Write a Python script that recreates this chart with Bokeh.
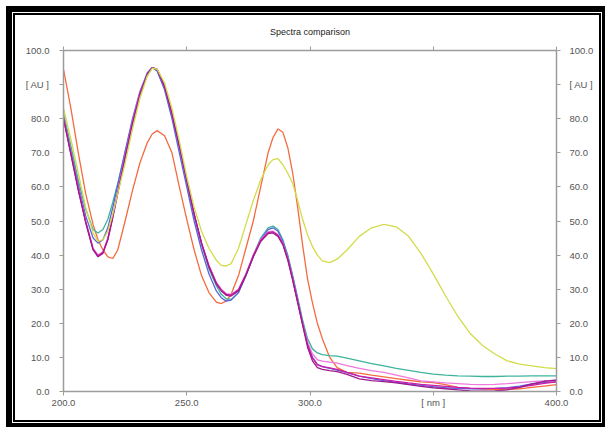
from bokeh.plotting import figure
from bokeh.models import Range1d, LinearAxis, FixedTicker, NumeralTickFormatter
from bokeh.embed import file_html
from bokeh.resources import INLINE

# ---- data ----
wavelength = [200, 203, 206, 209, 212, 214, 216, 218, 220, 222,
              225, 228, 231, 234, 236, 238, 241, 244, 247, 250,
              253, 256, 259, 262, 264, 266, 268, 271, 274, 277,
              280, 283, 285, 287, 289, 291, 293, 295, 297, 299,
              301, 303, 305, 308, 311, 315, 320, 325, 330, 335,
              340, 345, 350, 355, 360, 365, 370, 375, 380, 385,
              390, 395, 400]

orange = [94.5, 83, 70, 58, 49, 44.5, 41.5, 39.5, 39, 41.5,
          50, 59, 67, 73, 75.5, 76.5, 75, 70, 60, 50.5,
          41.5, 34, 29, 26.2, 25.8, 26.5, 28.5, 34, 42, 50,
          60, 70, 74.5, 77, 76, 71.5, 64, 54, 43, 33,
          26, 20, 15.5, 10, 7, 5.6, 5.4, 4.8, 4.3, 3.8,
          3.3, 2.8, 2.6, 2.0, 1.2, 0.9, 0.7, 0.6, 0.6, 0.8,
          1.2, 1.6, 2.0]

yellow = [83, 74, 64, 54, 46.5, 44, 44.5, 47, 52, 58,
          67, 77, 86, 92.5, 94.8, 94.5, 90.5, 83, 73.5, 63,
          54, 47, 42, 38.5, 37, 36.8, 37.5, 42, 49, 56,
          62, 66.5, 68, 68.3, 66.5, 64, 61, 56, 50.5, 46,
          42.5, 40, 38.3, 37.8, 38.8, 41.5, 45.5, 48, 49, 48.3,
          45.5, 40.5, 34.5, 28, 22, 17, 13.5, 11, 9, 8,
          7.5, 7, 6.7]

teal = [81.5, 72, 62, 53.5, 47.5, 46.5, 47.5, 50.5, 55.5, 61,
        70, 79, 87, 93, 95, 94, 89, 81, 71.5, 61.5,
        51.5, 43, 36, 31, 28.5, 27.2, 27, 29, 34, 40,
        45, 48, 48.5, 47.5, 44.5, 40, 34, 27.5, 21, 15.5,
        12.5, 11.3, 10.8, 10.5, 10.4, 9.8, 9.0, 8.2, 7.5, 6.8,
        6.2, 5.6, 5.1, 4.8, 4.6, 4.5, 4.4, 4.4, 4.5, 4.5,
        4.6, 4.6, 4.6]

blue = [80, 70.5, 60.5, 51.5, 45, 43.5, 44.5, 48, 54, 60.5,
        70.5, 80, 88, 93.5, 95, 94, 88.5, 80, 70, 60,
        50, 41.5, 34.5, 29.5, 27.5, 26.5, 26.8, 29, 34, 39.5,
        44.5, 47.5, 48, 47, 44, 39.5, 33.5, 27, 20, 14,
        10, 8, 7.3, 6.8, 6.3, 5.5, 4.5, 3.8, 3.2, 2.7,
        2.2, 1.8, 1.4, 1.1, 0.9, 0.8, 0.8, 0.9, 1.1, 1.6,
        2.2, 2.6, 2.8]

pink = [80.5, 70, 59.5, 50, 42, 40, 41, 45, 51.5, 58.5,
        69, 79, 87.5, 93, 95, 94.5, 89.5, 81.5, 72, 62,
        52, 43.5, 37, 32, 30, 28.7, 28.5, 30, 34.5, 40,
        44.5, 46.8, 47, 46, 43.5, 39, 33, 26.5, 20, 14.5,
        11, 9.3, 8.9, 8.6, 8.3, 7.6, 6.8, 6.1, 5.6, 4.8,
        4.0, 3.1, 2.8, 2.5, 2.3, 2.1, 2.0, 2.1, 2.3, 2.6,
        2.9, 3.1, 3.3]

magenta = [80.3, 69.8, 59.3, 49.8, 41.8, 39.8, 40.8, 44.8, 51.3, 58.3,
           68.8, 78.8, 87.3, 93, 95, 94.5, 89.5, 81.5, 72, 62,
           52, 43.5, 36.8, 31.8, 29.8, 28.5, 28.3, 29.8, 34.3, 39.8,
           44.3, 46.6, 46.8, 45.8, 43.3, 38.8, 32.8, 26.3, 19.8, 13.8,
           9.8, 7.8, 7.3, 6.9, 6.5, 5.6, 4.5, 4.0, 3.5, 3.0,
           2.5, 2.1, 1.8, 1.5, 1.2, 1.0, 0.9, 0.9, 1.0, 1.3,
           1.8, 2.4, 2.8]

purple = [80, 69.5, 59, 49.5, 41.5, 39.5, 40.5, 44.5, 51, 58,
          68.5, 78.5, 87, 93, 95, 94.5, 89.5, 81.5, 72, 62,
          52, 43.5, 36.5, 31.5, 29.5, 28.2, 28, 29.5, 34, 39.5,
          44, 46.3, 46.5, 45.5, 43, 38.5, 32.5, 26, 19.5, 13,
          9, 7, 6.5, 6.1, 5.8, 5.0, 3.7, 3.2, 2.9, 2.5,
          2.0, 1.5, 1.1, 0.8, 0.5, 0.2, 0.1, 0.2, 0.5, 1.2,
          2.2, 3.0, 3.3]

x_ticks = [200, 250, 300, 350, 400]
y_ticks = [0, 10, 20, 30, 40, 50, 60, 70, 80, 90, 100]
x_overrides = {350: "[ nm ]"}
y_overrides = {90: "[ AU ]"}
title_text = "Spectra comparison"

# ---- figure (placed inside a double black frame drawn with CSS) ----
p = figure(width=584, height=405, output_backend="svg", toolbar_location=None,
           x_range=Range1d(200, 400), y_range=Range1d(0, 100),
           x_axis_location=None, y_axis_location=None,
           min_border_left=48, min_border_right=43, min_border_top=35, min_border_bottom=29,
           title=title_text)
p.styles = {
    "margin-left": "15px",
    "margin-top": "15px",
    "box-shadow": "0 0 0 2px #000, 0 0 0 3px #fff, 0 0 0 9px #000",
}
p.grid.visible = False
p.outline_line_color = None
p.background_fill_color = "white"
p.border_fill_color = "white"

p.title.align = "center"
p.title.text_font = "Liberation Sans"
p.title.text_font_size = "9px"
p.title.text_font_style = "normal"
p.title.text_color = "#1a1a1a"
p.title.standoff = 19

AX = "#9c9c9c"
FONT = "Liberation Sans"


def style_axis(ax, standoff):
    ax.axis_line_color = AX
    ax.axis_line_width = 1.5
    ax.major_tick_line_color = AX
    ax.major_tick_line_width = 1
    ax.major_tick_out = 4
    ax.major_tick_in = 0
    ax.minor_tick_line_color = None
    ax.major_label_standoff = standoff
    ax.major_label_text_font = FONT
    ax.major_label_text_color = "#555555"
    ax.major_label_text_font_size = "9.5px"


left = LinearAxis(ticker=FixedTicker(ticks=y_ticks), formatter=NumeralTickFormatter(format="0.0"),
                  major_label_overrides=y_overrides)
right = LinearAxis(ticker=FixedTicker(ticks=y_ticks), formatter=NumeralTickFormatter(format="0.0"),
                   major_label_overrides=y_overrides)
bottom = LinearAxis(ticker=FixedTicker(ticks=x_ticks), formatter=NumeralTickFormatter(format="0.0"),
                    major_label_overrides=x_overrides)
top = LinearAxis(ticker=FixedTicker(ticks=x_ticks), formatter=NumeralTickFormatter(format="0.0"),
                 major_label_overrides={t: "" for t in x_ticks})
style_axis(left, 10)
style_axis(right, 9)
style_axis(bottom, 1)
style_axis(top, 0)
p.add_layout(left, "left")
p.add_layout(right, "right")
p.add_layout(bottom, "below")
p.add_layout(top, "above")

# ---- curves ----
series = [
    (orange, "#f56a3e"),
    (teal, "#3fb49c"),
    (blue, "#5a62de"),
    (pink, "#ee78dc"),
    (magenta, "#d01aa8"),
    (purple, "#a01a8c"),
    (yellow, "#d2dc48"),
]
for vals, col in series:
    p.line(wavelength, vals, line_color=col, line_width=1.3)

open("out.html", "w").write(file_html(p, INLINE))
